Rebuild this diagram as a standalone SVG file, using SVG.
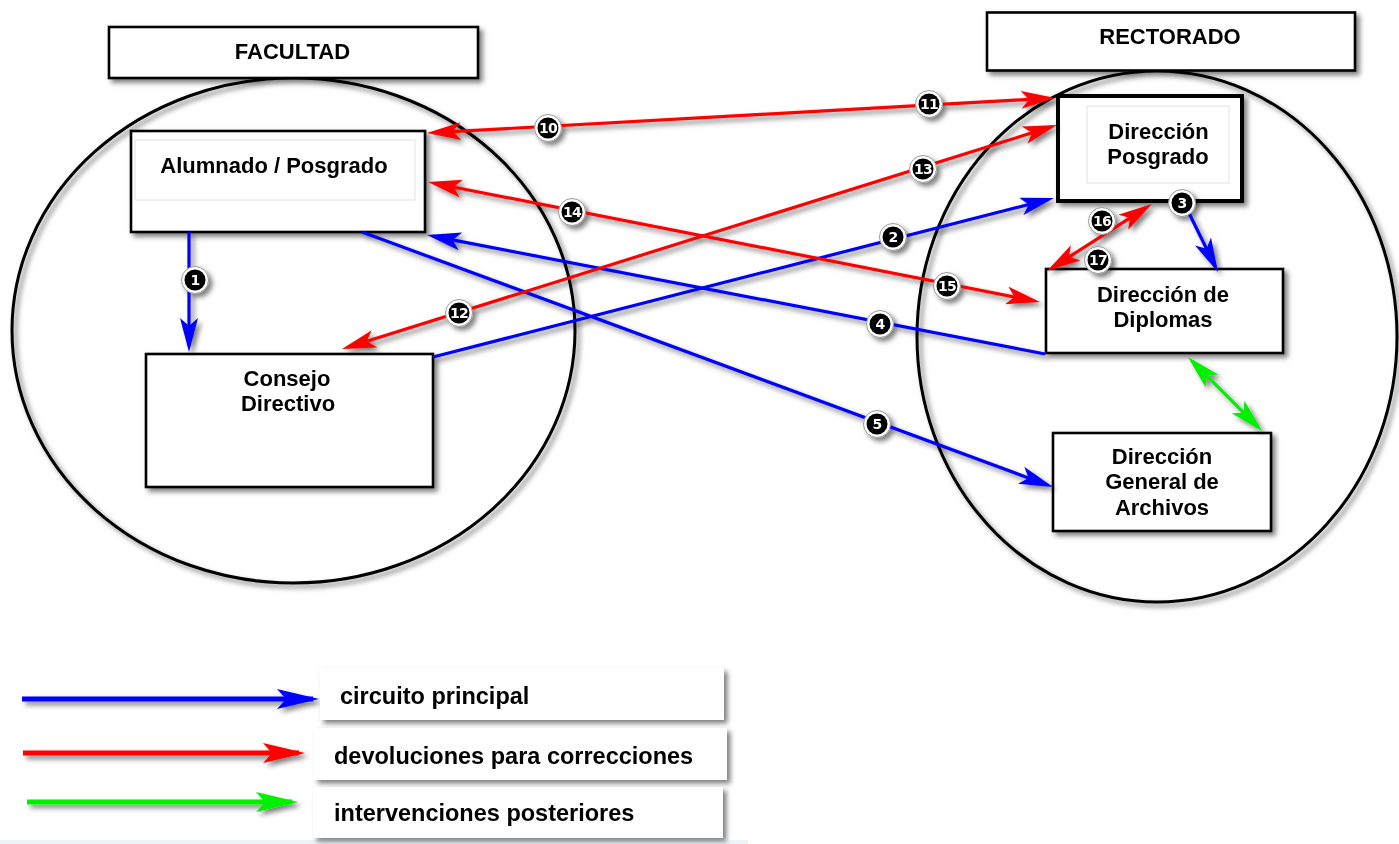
<svg xmlns="http://www.w3.org/2000/svg" width="1399" height="844" viewBox="0 0 1399 844">
<style>
.bg{fill:#fff}
.region{fill:none;stroke:#000;stroke-width:3}
.box{fill:#fff;stroke:#000;stroke-width:2.6}
.thick{stroke-width:4}
.inner{fill:#fff;stroke:#e2e2e2;stroke-width:1}
.plain{fill:#fff}
.lbl{font-family:"Liberation Sans",Arial,sans-serif;font-weight:bold;font-size:22px;text-anchor:middle;fill:#000}
.leg{font-family:"Liberation Sans",Arial,sans-serif;font-weight:bold;font-size:23.5px;fill:#000}
.c{fill:none;stroke-width:3.2;stroke-linecap:butt}
.blue{stroke:#0000ff}
.red{stroke:#ff0000}
.green{stroke:#00f000}
.lg{fill:none;stroke-width:5}
.bo{fill:#fff;stroke:#9a9a9a;stroke-width:1}
.bi{fill:#000}
.bt{font-family:"DejaVu Sans",sans-serif;font-weight:bold;font-size:14px;text-anchor:middle;fill:#fff;letter-spacing:-0.8px}
</style>
<defs>
<filter id="sh" filterUnits="userSpaceOnUse" x="0" y="0" width="1399" height="844">
<feDropShadow dx="3.5" dy="3.5" stdDeviation="2.4" flood-color="#000" flood-opacity="0.5"/>
</filter>
<marker id="ab" viewBox="0 0 34 18" refX="28" refY="9" markerWidth="34" markerHeight="18" markerUnits="userSpaceOnUse" orient="auto-start-reverse"><path d="M0,0 L34,9 L0,18 L8,9 Z" fill="#0000ff"/></marker>
<marker id="ar" viewBox="0 0 34 18" refX="28" refY="9" markerWidth="34" markerHeight="18" markerUnits="userSpaceOnUse" orient="auto-start-reverse"><path d="M0,0 L34,9 L0,18 L8,9 Z" fill="#ff0000"/></marker>
<marker id="ag" viewBox="0 0 34 18" refX="28" refY="9" markerWidth="34" markerHeight="18" markerUnits="userSpaceOnUse" orient="auto-start-reverse"><path d="M0,0 L34,9 L0,18 L8,9 Z" fill="#00f000"/></marker>
<marker id="lb" viewBox="0 0 42 20" refX="36" refY="10" markerWidth="42" markerHeight="20" markerUnits="userSpaceOnUse" orient="auto"><path d="M0,0 L42,10 L0,20 L9,10 Z" fill="#0000ff"/></marker>
<marker id="lr" viewBox="0 0 42 20" refX="36" refY="10" markerWidth="42" markerHeight="20" markerUnits="userSpaceOnUse" orient="auto"><path d="M0,0 L42,10 L0,20 L9,10 Z" fill="#ff0000"/></marker>
<marker id="lgm" viewBox="0 0 42 20" refX="36" refY="10" markerWidth="42" markerHeight="20" markerUnits="userSpaceOnUse" orient="auto"><path d="M0,0 L42,10 L0,20 L9,10 Z" fill="#00f000"/></marker>
</defs>
<rect class="bg" x="0" y="0" width="1399" height="844"/>
<rect x="0" y="840" width="748" height="4" fill="#eef3fa"/>

<g id="facultad" filter="url(#sh)">
<ellipse class="region" cx="293.5" cy="330.5" rx="281.5" ry="252.5"/>
<rect class="box" x="109" y="27" width="369" height="51"/>
<text class="lbl" x="292.5" y="59">FACULTAD</text>
</g>
<g id="rectorado" filter="url(#sh)">
<ellipse class="region" cx="1157" cy="336.5" rx="240" ry="265.5"/>
<rect class="box" x="987" y="12.5" width="368" height="58"/>
<text class="lbl" x="1170" y="43.5">RECTORADO</text>
</g>

<g id="alumnado" filter="url(#sh)">
<rect class="box" x="131" y="131" width="294" height="101"/>
<rect class="inner" x="135" y="140" width="280" height="60"/>
<text class="lbl" x="274" y="173">Alumnado / Posgrado</text>
</g>
<g id="consejo" filter="url(#sh)">
<rect class="box" x="146" y="354" width="287" height="133"/>
<text class="lbl" x="287" y="386">Consejo</text>
<text class="lbl" x="288" y="411">Directivo</text>
</g>
<g id="direccion-posgrado" filter="url(#sh)">
<rect class="box thick" x="1058" y="96" width="184" height="105"/>
<rect class="inner" x="1087" y="106" width="142" height="77"/>
<text class="lbl" x="1158.5" y="139">Dirección</text>
<text class="lbl" x="1158" y="164">Posgrado</text>
</g>
<g id="direccion-diplomas" filter="url(#sh)">
<rect class="box" x="1046" y="269" width="237" height="84"/>
<text class="lbl" x="1163" y="301.5">Dirección de</text>
<text class="lbl" x="1163" y="326.5">Diplomas</text>
</g>
<g id="direccion-archivos" filter="url(#sh)">
<rect class="box" x="1053" y="433" width="218" height="98"/>
<text class="lbl" x="1162" y="464">Dirección</text>
<text class="lbl" x="1162" y="489">General de</text>
<text class="lbl" x="1162" y="515">Archivos</text>
</g>

<g id="connectors" filter="url(#sh)">
<line class="c blue" x1="189" y1="232" x2="189" y2="346" marker-end="url(#ab)"/>
<line class="c blue" x1="433" y1="357" x2="1048.2" y2="199.5" marker-end="url(#ab)"/>
<line class="c blue" x1="1186" y1="207" x2="1215.3" y2="266.6" marker-end="url(#ab)"/>
<line class="c blue" x1="1045" y1="354" x2="432.9" y2="236.1" marker-end="url(#ab)"/>
<line class="c blue" x1="362" y1="232" x2="1047.4" y2="484.9" marker-end="url(#ab)"/>
<line class="c red" x1="433" y1="132.7" x2="1049" y2="98.3" marker-start="url(#ar)" marker-end="url(#ar)"/>
<line class="c red" x1="347.7" y1="347.2" x2="1051.3" y2="126.8" marker-start="url(#ar)" marker-end="url(#ar)"/>
<line class="c red" x1="433.9" y1="183.2" x2="1034.1" y2="300.8" marker-start="url(#ar)" marker-end="url(#ar)"/>
<line class="c red" x1="1146.9" y1="207.2" x2="1052.1" y2="267.8" marker-start="url(#ar)" marker-end="url(#ar)"/>
<line class="c green" x1="1192.2" y1="361.2" x2="1257.8" y2="426.8" marker-start="url(#ag)" marker-end="url(#ag)"/>

<g id="badge-1"><circle class="bo" cx="195" cy="280" r="13.5"/><circle class="bi" cx="195" cy="280" r="10.5"/><text class="bt" x="195" y="285">1</text></g>
<g id="badge-2"><circle class="bo" cx="893" cy="237" r="13.5"/><circle class="bi" cx="893" cy="237" r="10.5"/><text class="bt" x="893" y="242">2</text></g>
<g id="badge-3"><circle class="bo" cx="1182" cy="203" r="13.5"/><circle class="bi" cx="1182" cy="203" r="10.5"/><text class="bt" x="1182" y="208">3</text></g>
<g id="badge-4"><circle class="bo" cx="880" cy="324" r="13.5"/><circle class="bi" cx="880" cy="324" r="10.5"/><text class="bt" x="880" y="329">4</text></g>
<g id="badge-5"><circle class="bo" cx="877" cy="424" r="13.5"/><circle class="bi" cx="877" cy="424" r="10.5"/><text class="bt" x="877" y="429">5</text></g>
<g id="badge-10"><circle class="bo" cx="548" cy="128" r="13.5"/><circle class="bi" cx="548" cy="128" r="10.5"/><text class="bt" x="548" y="133">10</text></g>
<g id="badge-11"><circle class="bo" cx="929" cy="104" r="13.5"/><circle class="bi" cx="929" cy="104" r="10.5"/><text class="bt" x="929" y="109">11</text></g>
<g id="badge-12"><circle class="bo" cx="459" cy="313" r="13.5"/><circle class="bi" cx="459" cy="313" r="10.5"/><text class="bt" x="459" y="318">12</text></g>
<g id="badge-13"><circle class="bo" cx="923" cy="169" r="13.5"/><circle class="bi" cx="923" cy="169" r="10.5"/><text class="bt" x="923" y="174">13</text></g>
<g id="badge-14"><circle class="bo" cx="572" cy="212" r="13.5"/><circle class="bi" cx="572" cy="212" r="10.5"/><text class="bt" x="572" y="217">14</text></g>
<g id="badge-15"><circle class="bo" cx="947" cy="286" r="13.5"/><circle class="bi" cx="947" cy="286" r="10.5"/><text class="bt" x="947" y="291">15</text></g>
<g id="badge-16"><circle class="bo" cx="1102" cy="221" r="13.5"/><circle class="bi" cx="1102" cy="221" r="10.5"/><text class="bt" x="1102" y="226">16</text></g>
<g id="badge-17"><circle class="bo" cx="1098" cy="260" r="13.5"/><circle class="bi" cx="1098" cy="260" r="10.5"/><text class="bt" x="1098" y="265">17</text></g>
</g>

<g id="legend" filter="url(#sh)">
<line class="lg blue" x1="22" y1="699" x2="313" y2="699" marker-end="url(#lb)"/>
<line class="lg red" x1="23" y1="753" x2="299" y2="753" marker-end="url(#lr)"/>
<line class="lg green" x1="27" y1="802" x2="292" y2="802" marker-end="url(#lgm)"/>
<rect class="plain" x="320" y="668" width="404" height="52"/>
<rect class="plain" x="314" y="728" width="413" height="52"/>
<rect class="plain" x="313" y="787" width="410" height="51"/>
<text class="leg" x="340" y="704">circuito principal</text>
<text class="leg" x="334" y="764">devoluciones para correcciones</text>
<text class="leg" x="334" y="821">intervenciones posteriores</text>
</g>
</svg>
